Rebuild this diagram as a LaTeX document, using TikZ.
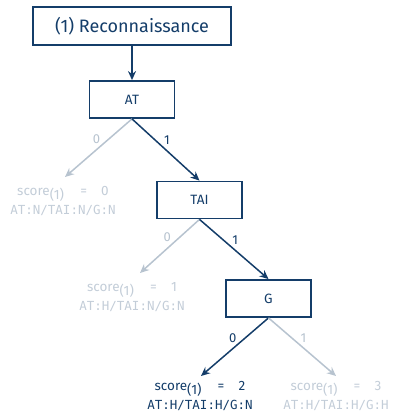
\documentclass[tikz,border=0pt]{standalone}
\usepackage{fontspec}
\setmainfont{Fira Sans}
\setsansfont{Fira Sans}
\setmonofont{DejaVu Sans Mono}
\usetikzlibrary{arrows.meta}

\definecolor{navy}{HTML}{143D69}
\definecolor{faded}{HTML}{B7C3CF}
\definecolor{fadedtext}{HTML}{C3CDD8}

\newcommand{\scoreline}[1]{score\raisebox{-0.55ex}{(1)}\hspace{1.2em}=\hspace{1.05em}#1}

\tikzset{
  box/.style={draw=navy, line width=1.8pt, text=navy, minimum width=85pt,
    minimum height=37pt, inner sep=0pt, font=\fontsize{13.5}{15}\selectfont},
  title/.style={box, minimum width=198pt, minimum height=38pt,
    font=\fontsize{18}{20}\selectfont},
  leaf/.style={align=center, inner sep=0pt, font=\fontsize{13.5}{19}\selectfont},
  hot/.style={text=navy},
  cold/.style={text=fadedtext},
  taken/.style={draw=navy, line width=1.5pt, -{Stealth[length=9pt,width=8pt]}},
  skipped/.style={draw=faded, line width=1.5pt, -{Stealth[length=9pt,width=8pt]}},
  lbl/.style={font=\fontsize{13}{15}\selectfont, inner sep=1pt},
}

\begin{document}
\begin{tikzpicture}[x=1pt, y=-1pt]
  \useasboundingbox (0,0) rectangle (394,415);

  % decision boxes
  \node[title] (rec) at (132,26) {(1) Reconnaissance};
  \node[box] (at) at (132,99.5) {AT};
  \node[box] (tai) at (199.5,200) {TAI};
  \node[box] (g) at (268.5,298.5) {G};

  % outcomes
  \node[leaf, cold] (l0) at (63,201) {\scoreline{0}\\{\ttfamily\fontsize{12.5}{19}\selectfont AT:N/TAI:N/G:N}};
  \node[leaf, cold] (l1) at (132,297) {\scoreline{1}\\{\ttfamily\fontsize{12.5}{19}\selectfont AT:H/TAI:N/G:N}};
  \node[leaf, hot] (l2) at (200,396) {\scoreline{2}\\{\ttfamily\fontsize{12.5}{19}\selectfont AT:H/TAI:H/G:N}};
  \node[leaf, cold] (l3) at (336,396) {\scoreline{3}\\{\ttfamily\fontsize{12.5}{19}\selectfont AT:H/TAI:H/G:H}};

  % connectors
  \draw[taken] (rec.south) -- (at.north);

  \draw[skipped] (at.south) -- (65,177) coordinate (l0top)
    node[lbl, text=faded, pos=0.45, above left] {0};
  \draw[taken] (at.south) -- (tai.north)
    node[lbl, text=navy, pos=0.45, above right] {1};

  \draw[skipped] (tai.south) -- (140,273) coordinate (l1top)
    node[lbl, text=faded, pos=0.45, above left] {0};
  \draw[taken] (tai.south) -- (g.north)
    node[lbl, text=navy, pos=0.45, above right] {1};

  \draw[taken] (g.south) -- (201,376) coordinate (l2top)
    node[lbl, text=navy, pos=0.45, above left] {0};
  \draw[skipped] (g.south) -- (336,376) coordinate (l3top)
    node[lbl, text=faded, pos=0.45, above right] {1};
\end{tikzpicture}
\end{document}
